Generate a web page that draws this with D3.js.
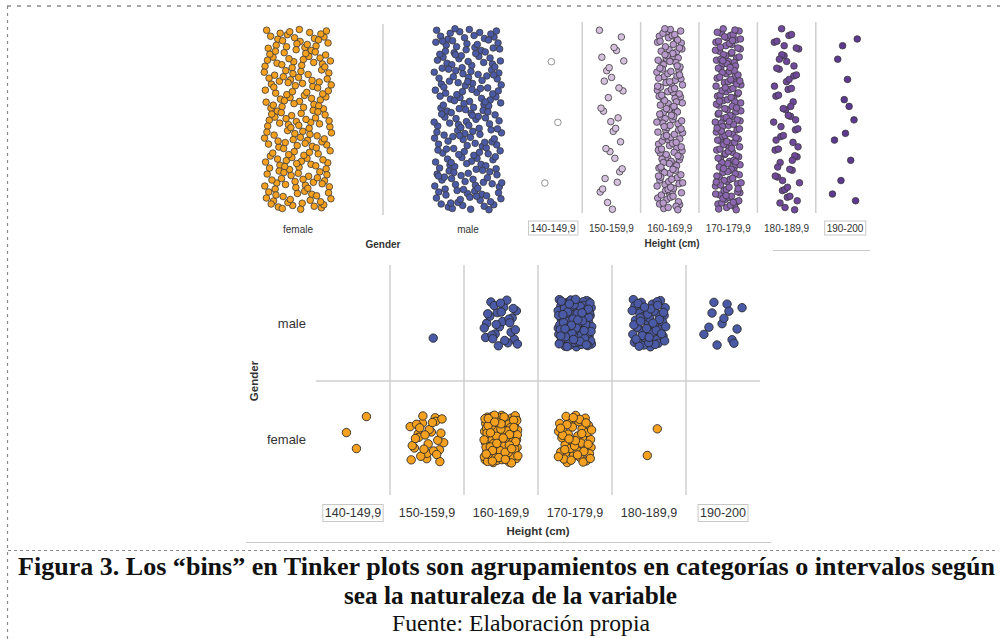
<!DOCTYPE html>
<html>
<head>
<meta charset="utf-8">
<script src="https://cdn.jsdelivr.net/npm/d3@7"></script>
<style>
  body { margin: 0; background: #fff; }
  svg { display: block; }
  .lbl { font-family: "Liberation Sans", Arial, sans-serif; fill: #333; }
  .cap { font-family: "Liberation Serif", "Times New Roman", serif; fill: #111; }
</style>
</head>
<body>
<svg id="chart" width="1000" height="639"></svg>
<script>
// categories
const genders = ['female', 'male'];
const rowGenders = ['male', 'female'];
const heightBins = ['140-149,9', '150-159,9', '160-169,9', '170-179,9', '180-189,9', '190-200'];

// counts per height bin
const femaleCounts = [3, 30, 130, 52, 2, 0];
const maleCounts = [0, 1, 30, 120, 60, 13];

// bins drawn with a box round the label (edge bins)
const boxedBins = ['140-149,9', '190-200'];

const binColors = ['#ffffff', '#d6c1df', '#b89acd', '#8c66b0', '#70489b', '#5c3891'];
const genderColor = { female: '#f5a01f', male: '#4b5aa7' };

const countsByGender = { female: femaleCounts, male: maleCounts };
const genderTotals = genders.map(g => d3.sum(countsByGender[g]));
const binTotals = heightBins.map((b, i) => femaleCounts[i] + maleCounts[i]);

const svg = d3.select('#chart');

// low-discrepancy jitter so the dots look mixed up like in TinkerPlots
function halton(i, base) {
  let f = 1, r = 0;
  while (i > 0) { f /= base; r += f * (i % base); i = Math.floor(i / base); }
  return r;
}
function jitter(n, seed) {
  const out = [];
  for (let i = 0; i < n; i++) {
    out.push({ u: halton(i + 1 + seed, 2), v: halton(i + 1 + seed, 3) });
  }
  return out;
}

// ---------- frame ----------
svg.append('line').attr('x1', 7).attr('x2', 1000).attr('y1', 6).attr('y2', 6)
  .attr('stroke', '#8a8a8a').attr('stroke-width', 1.5).attr('stroke-dasharray', '4,6');
svg.append('line').attr('x1', 7.5).attr('x2', 7.5).attr('y1', 6).attr('y2', 639)
  .attr('stroke', '#8a8a8a').attr('stroke-width', 1.2).attr('stroke-dasharray', '3,4');
svg.append('line').attr('x1', 8).attr('x2', 995).attr('y1', 550.5).attr('y2', 550.5)
  .attr('stroke', '#8a8a8a').attr('stroke-width', 1).attr('stroke-dasharray', '3,3');

function drawLabel(g, text, x, y, size, boxed, bold) {
  const t = g.append('text').attr('class', 'lbl')
    .attr('x', x).attr('y', y).attr('text-anchor', 'middle').attr('dy', '0.35em')
    .attr('font-size', size).attr('font-weight', bold ? 'bold' : 'normal').text(text);
  if (boxed) {
    const bb = t.node().getBBox();
    g.insert('rect', 'text').attr('x', bb.x - 2).attr('y', y - size * 0.6 - 1)
      .attr('width', bb.width + 4).attr('height', size * 1.2 + 2)
      .attr('fill', 'none').attr('stroke', '#c8c8c8').attr('stroke-width', 1);
  }
  return t;
}

// ---------- top left: Gender ----------
const gTop = svg.append('g');
const xGender = d3.scaleBand().domain(genders).range([213, 553]);
const yTop = d3.scaleLinear().domain([0, 1]).range([210, 28]);

gTop.append('line').attr('x1', 383).attr('x2', 383).attr('y1', 24).attr('y2', 215)
  .attr('stroke', '#cfcfcf').attr('stroke-width', 1.5);

genders.forEach((g, gi) => {
  const cx = xGender(g) + xGender.bandwidth() / 2;
  const xs = d3.scaleLinear().domain([0, 1]).range([cx - 34, cx + 34]);
  gTop.append('g').selectAll('circle')
    .data(jitter(genderTotals[gi], gi * 37 + 5))
    .join('circle')
    .attr('cx', d => xs(d.u)).attr('cy', d => yTop(d.v)).attr('r', 3.3)
    .attr('fill', genderColor[g]).attr('stroke', '#3a3a3a').attr('stroke-width', 0.8);
  drawLabel(gTop, g, cx, 229, 10, false, false);
});
drawLabel(gTop, 'Gender', 383, 244, 10, false, true);

// ---------- top right: Height (cm) ----------
const xBinTop = d3.scaleBand().domain(heightBins).range([523.8, 874.2]);
heightBins.forEach((b, bi) => {
  const x0 = xBinTop(b);
  if (bi > 0) {
    gTop.append('line').attr('x1', x0).attr('x2', x0).attr('y1', 22).attr('y2', 213)
      .attr('stroke', '#cfcfcf').attr('stroke-width', 1.5);
  }
  const cx = x0 + xBinTop.bandwidth() / 2;
  const xs = d3.scaleLinear().domain([0, 1]).range([cx - 13, cx + 13]);
  gTop.append('g').selectAll('circle')
    .data(jitter(binTotals[bi], bi * 53 + 11))
    .join('circle')
    .attr('cx', d => xs(d.u)).attr('cy', d => yTop(d.v)).attr('r', 3.3)
    .attr('fill', binColors[bi]).attr('stroke', bi === 0 ? '#777' : '#3a3a3a').attr('stroke-width', 0.8);
  drawLabel(gTop, b, cx, 228, 10, boxedBins.includes(b), false);
});
drawLabel(gTop, 'Height (cm)', 672, 243, 10, false, true);
gTop.append('line').attr('x1', 773).attr('x2', 870).attr('y1', 250.5).attr('y2', 250.5)
  .attr('stroke', '#c8c8c8').attr('stroke-width', 1);

// ---------- bottom: Gender x Height ----------
const gBot = svg.append('g');
const xBin = d3.scaleBand().domain(heightBins).range([316, 760]);
const yRow = d3.scaleBand().domain(rowGenders).range([265, 497]);

gBot.append('line').attr('x1', 316).attr('x2', 760)
  .attr('y1', yRow('female')).attr('y2', yRow('female'))
  .attr('stroke', '#cfcfcf').attr('stroke-width', 1.5);
heightBins.slice(1).forEach(b => {
  gBot.append('line').attr('x1', xBin(b)).attr('x2', xBin(b)).attr('y1', 265).attr('y2', 495)
    .attr('stroke', '#cfcfcf').attr('stroke-width', 1.5);
});

rowGenders.forEach((g, ri) => {
  const cy = yRow(g) + yRow.bandwidth() / 2;
  heightBins.forEach((b, bi) => {
    const n = countsByGender[g][bi];
    if (!n) return;
    const cx = xBin(b) + xBin.bandwidth() / 2;
    const hw = n < 20 ? 20 : 17;
    const xs = d3.scaleLinear().domain([0, 1]).range([cx - hw, cx + hw]);
    const ys = d3.scaleLinear().domain([0, 1]).range([cy + 24, cy - 24]);
    gBot.append('g').selectAll('circle')
      .data(jitter(n, ri * 101 + bi * 17 + 3))
      .join('circle')
      .attr('cx', d => xs(d.u)).attr('cy', d => ys(d.v)).attr('r', 4.2)
      .attr('fill', genderColor[g]).attr('stroke', '#2a2a2a').attr('stroke-width', 0.9);
  });
  gBot.append('text').attr('class', 'lbl').attr('x', 306).attr('y', cy).attr('dy', '0.35em')
    .attr('text-anchor', 'end').attr('font-size', 13).text(g);
});

heightBins.forEach(b => {
  drawLabel(gBot, b, xBin(b) + xBin.bandwidth() / 2, 513, 12.5, boxedBins.includes(b), false);
});
drawLabel(gBot, 'Height (cm)', 538, 531, 11.5, false, true);
gBot.append('text').attr('class', 'lbl').attr('transform', 'translate(254,381) rotate(-90)')
  .attr('text-anchor', 'middle').attr('dy', '0.35em').attr('font-size', 11.5)
  .attr('font-weight', 'bold').text('Gender');
gBot.append('line').attr('x1', 246).attr('x2', 771).attr('y1', 542.5).attr('y2', 542.5)
  .attr('stroke', '#c8c8c8').attr('stroke-width', 1);

// ---------- caption (narrow Times look: squeeze to the measured widths) ----------
svg.append('text').attr('class', 'cap').attr('x', 18).attr('y', 575)
  .attr('font-size', 25).attr('font-weight', 'bold')
  .attr('textLength', 977).attr('lengthAdjust', 'spacingAndGlyphs')
  .text('Figura 3. Los “bins” en Tinker plots son agrupamientos en categorías o intervalos según');
svg.append('text').attr('class', 'cap').attr('x', 344).attr('y', 604)
  .attr('font-size', 25).attr('font-weight', 'bold')
  .attr('textLength', 333).attr('lengthAdjust', 'spacingAndGlyphs')
  .text('sea la naturaleza de la variable');
svg.append('text').attr('class', 'cap').attr('x', 392).attr('y', 631)
  .attr('font-size', 24)
  .attr('textLength', 258).attr('lengthAdjust', 'spacingAndGlyphs')
  .text('Fuente: Elaboración propia');
</script>
</body>
</html>
